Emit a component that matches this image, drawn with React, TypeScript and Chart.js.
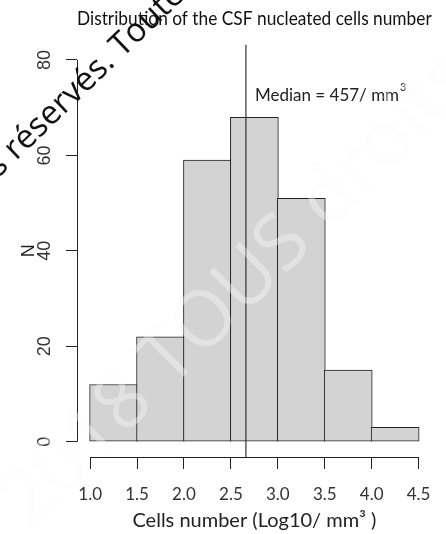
import React, { useEffect, useRef } from "react";
import { Chart, registerables } from "chart.js";

Chart.register(...registerables);

// ---- data ----
const binStarts = [1.0, 1.5, 2.0, 2.5, 3.0, 3.5, 4.0];
const binWidth = 0.5;
const counts = [12, 22, 59, 68, 51, 15, 3];
const xTickValues = [1.0, 1.5, 2.0, 2.5, 3.0, 3.5, 4.0, 4.5];
const yTickValues = [0, 20, 40, 60, 80];
const medianValue = 457;
const medianLog = Math.log10(medianValue);
const medianLabelY = 72.5;
const titleText = "Distribution of the CSF nucleated cells number";
const xAxisTitle = "Cells number (Log10/ mm³ )";
const yAxisTitle = "N";
const watermarkBlack = ["Tous droits ", "réservés. Toute reproduction interdite"];
const watermarkGray = "2018 TOUS droits réservés";

const W = 446;
const H = 534;

const overlayPlugin = {
  id: "overlay",
  afterDatasetsDraw(chart: any) {
    const ctx = chart.ctx;
    const xs = chart.scales.x;
    const ys = chart.scales.y;
    const area = chart.chartArea;
    ctx.save();
    // axis lines (R style: from first to last tick)
    ctx.strokeStyle = "#222";
    ctx.lineWidth = 1;
    ctx.beginPath();
    const yl = Math.round(area.left) + 0.5;
    ctx.moveTo(yl, ys.getPixelForValue(yTickValues[0]));
    ctx.lineTo(yl, ys.getPixelForValue(yTickValues[yTickValues.length - 1]));
    const xb = Math.round(area.bottom) + 0.5;
    ctx.moveTo(xs.getPixelForValue(xTickValues[0]), xb);
    ctx.lineTo(xs.getPixelForValue(xTickValues[xTickValues.length - 1]), xb);
    ctx.stroke();

    // y tick labels rotated
    ctx.fillStyle = "#333";
    ctx.font = "18px 'Liberation Sans', Arial, sans-serif";
    ctx.textAlign = "center";
    ctx.textBaseline = "middle";
    for (const v of yTickValues) {
      const py = ys.getPixelForValue(v);
      ctx.save();
      ctx.translate(45, py);
      ctx.rotate(-Math.PI / 2);
      ctx.fillText(String(v), 0, 0);
      ctx.restore();
    }
    // y axis title
    ctx.save();
    ctx.translate(29, ys.getPixelForValue(40));
    ctx.rotate(-Math.PI / 2);
    ctx.fillStyle = "#222";
    ctx.fillText(yAxisTitle, 0, 0);
    ctx.restore();

    // median line
    const mx = xs.getPixelForValue(medianLog);
    ctx.strokeStyle = "#333";
    ctx.lineWidth = 1.2;
    ctx.beginPath();
    ctx.moveTo(mx, area.top);
    ctx.lineTo(mx, area.bottom);
    ctx.stroke();

    // median label
    const ly = ys.getPixelForValue(medianLabelY);
    ctx.fillStyle = "#222";
    ctx.font = "17px Lato, 'Open Sans', sans-serif";
    ctx.textAlign = "left";
    ctx.textBaseline = "middle";
    const main = "Median = " + medianValue + "/ mm";
    ctx.fillText(main, mx + 9, ly);
    const w = ctx.measureText(main).width;
    ctx.font = "11px Lato, 'Open Sans', sans-serif";
    ctx.fillText("3", mx + 10 + w, ly - 8);
    ctx.restore();
  },
  afterDraw(chart: any) {
    const ctx = chart.ctx;
    ctx.save();
    // faint gray watermark
    ctx.font = "78px 'Open Sans', sans-serif";
    ctx.fillStyle = "rgba(250,250,250,0.4)";
    ctx.textAlign = "left";
    ctx.textBaseline = "alphabetic";
    ctx.translate(30, 530);
    ctx.rotate(-Math.PI / 4);
    ctx.fillText(watermarkGray, 0, 0);
    ctx.restore();

    // black watermark
    ctx.save();
    ctx.font = "33px 'Open Sans', sans-serif";
    ctx.fillStyle = "#111";
    ctx.translate(16, 161);
    ctx.rotate((-44 * Math.PI) / 180);
    ctx.textBaseline = "alphabetic";
    ctx.textAlign = "right";
    ctx.fillText(watermarkBlack[0], 0, 0);
    ctx.textAlign = "left";
    ctx.fillText(watermarkBlack[1], 0, 0);
    ctx.restore();
  },
};

export default function App() {
  const ref = useRef<HTMLCanvasElement | null>(null);
  useEffect(() => {
    if (!ref.current) return;
    const data = binStarts.map((s, i) => ({ x: s + binWidth / 2, y: counts[i] }));
    const chart = new Chart(ref.current, {
      type: "bar",
      data: {
        datasets: [
          {
            data: data as any,
            backgroundColor: "#d3d3d3",
            borderColor: "#222",
            borderWidth: 1,
            borderSkipped: false,
            barThickness: 48,
          } as any,
        ],
      },
      plugins: [overlayPlugin],
      options: {
        animation: false,
        responsive: false,
        maintainAspectRatio: false,
        layout: { padding: { left: 0, right: 14, top: 0, bottom: 0 } },
        plugins: {
          legend: { display: false },
          tooltip: { enabled: false },
          title: {
            display: true,
            text: titleText,
            fullSize: false,
            color: "#111",
            font: { family: "Lato, 'Open Sans', sans-serif", size: 18.4, weight: "normal", lineHeight: 1.2 },
            padding: { top: 8, bottom: 14.6 },
          },
        },
        scales: {
          x: {
            type: "linear",
            offset: false,
            min: 1 - 0.04 * 3.5,
            max: 4.5 + 0.04 * 3.5,
            afterBuildTicks: (s: any) => {
              s.ticks = xTickValues.map((v) => ({ value: v }));
            },
            afterFit: (s: any) => {
              s.height = 77;
            },
            grid: {
              offset: false,
              drawOnChartArea: false,
              drawTicks: true,
              tickLength: 12,
              color: "#222",
              lineWidth: 1,
            },
            border: { display: false },
            ticks: {
              autoSkip: false,
              maxRotation: 0,
              padding: 15,
              color: "#333",
              font: { family: "Lato, 'Open Sans', sans-serif", size: 17 },
              callback: (v: any) => Number(v).toFixed(1),
            },
            title: {
              display: true,
              text: xAxisTitle,
              color: "#222",
              font: { family: "Lato, 'Open Sans', sans-serif", size: 20, lineHeight: 1.2 },
              padding: { top: 0, bottom: 1 },
            },
          },
          y: {
            type: "linear",
            min: -0.04 * 80,
            max: 80 + 0.04 * 80,
            afterBuildTicks: (s: any) => {
              s.ticks = yTickValues.map((v) => ({ value: v }));
            },
            afterFit: (s: any) => {
              s.width = 77;
            },
            grid: {
              drawOnChartArea: false,
              drawTicks: true,
              tickLength: 11,
              color: "#222",
              lineWidth: 1,
            },
            border: { display: false },
            ticks: { display: false },
          },
        },
      } as any,
    });
    return () => chart.destroy();
  }, []);
  return (
    <div style={{ position: "fixed", left: 0, top: 0, width: W, height: H, background: "#fff" }}>
      <canvas ref={ref} width={W} height={H} style={{ width: W, height: H, display: "block" }} />
    </div>
  );
}
